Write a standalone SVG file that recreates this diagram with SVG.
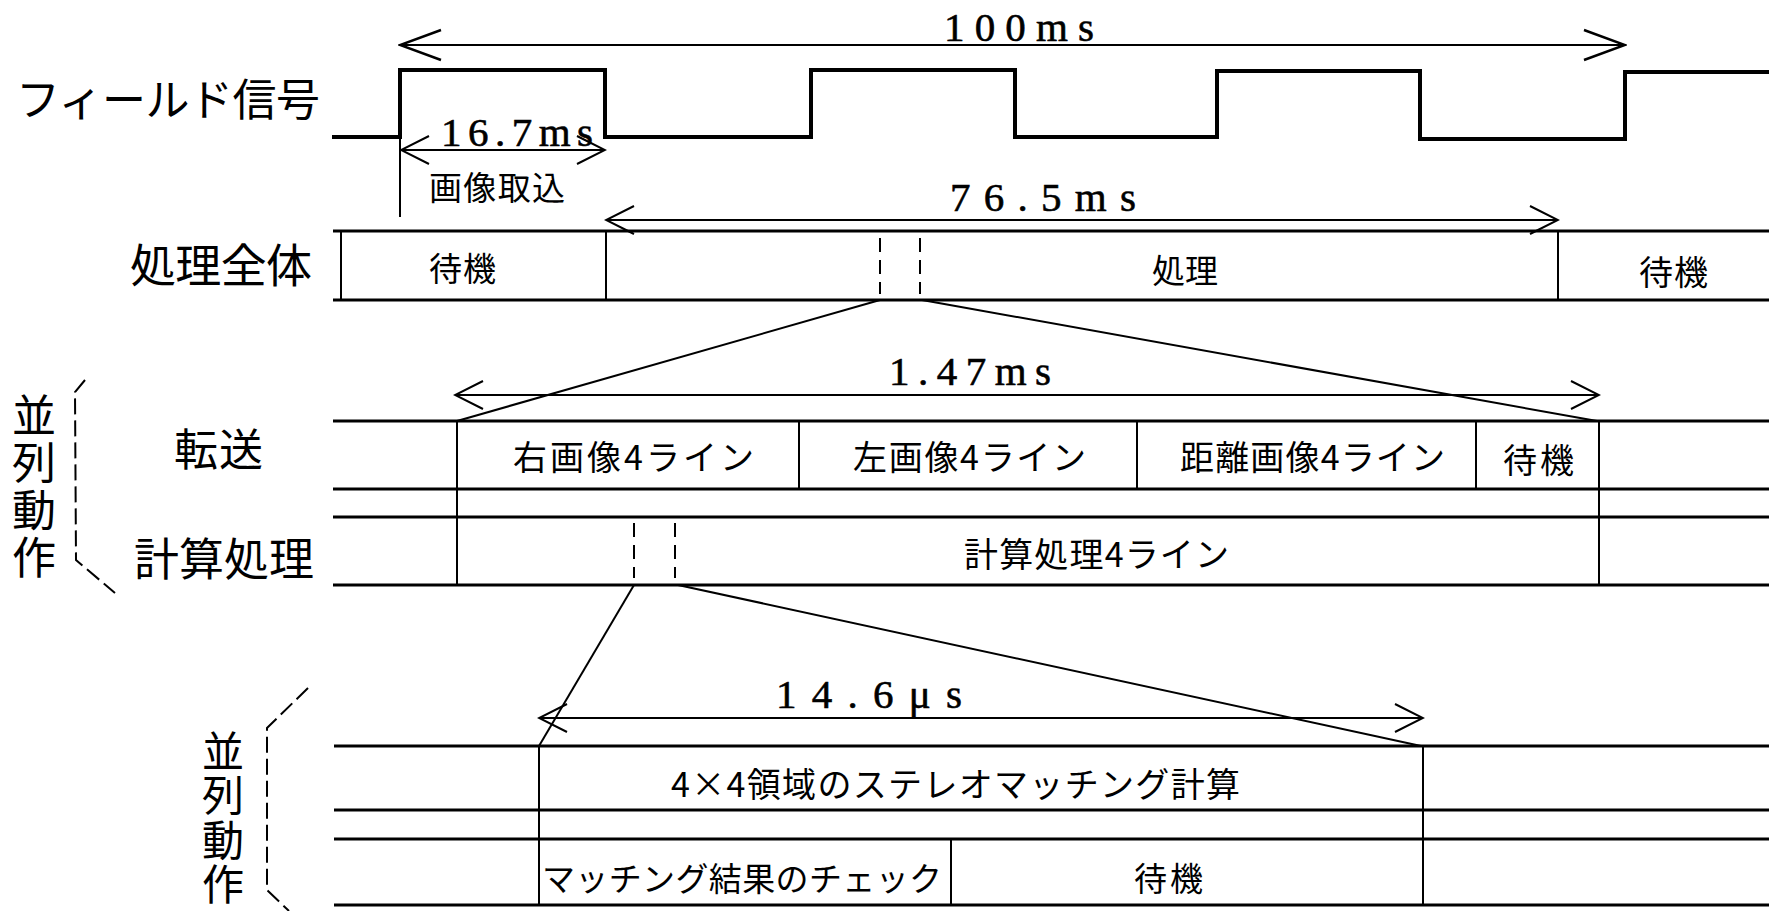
<svg xmlns="http://www.w3.org/2000/svg" width="1769" height="911" viewBox="0 0 1769 911">
<style>
.bg{fill:#fff}
.jp{font-family:"Noto Sans CJK JP","Noto Sans",sans-serif;fill:#000}
.vt{writing-mode:vertical-rl;text-orientation:upright}
.num{font-family:"Liberation Serif","DejaVu Serif",serif;fill:#000;font-size:41px;stroke:#000;stroke-width:0.6}
.sig{fill:none;stroke:#000;stroke-width:4;stroke-linejoin:miter}
.row{fill:none;stroke:#000;stroke-width:3}
.thin{fill:none;stroke:#000;stroke-width:2}
.dash{fill:none;stroke:#000;stroke-width:2;stroke-dasharray:14 8}
.brk{fill:none;stroke:#000;stroke-width:2;stroke-dasharray:16 6}
.dim{fill:none;stroke:#000;stroke-width:2}
</style>
<defs>
<marker id="ah" markerUnits="userSpaceOnUse" viewBox="-30 -16 32 32" markerWidth="32" markerHeight="32" refX="0" refY="0" orient="auto-start-reverse">
<path d="M-28,-14 L0,0 L-28,14" fill="none" stroke="#000" stroke-width="2"/>
</marker>
<marker id="ahL" markerUnits="userSpaceOnUse" viewBox="-44 -18 46 36" markerWidth="46" markerHeight="36" refX="0" refY="0" orient="auto-start-reverse">
<path d="M-41,-15 L0,0 L-41,15" fill="none" stroke="#000" stroke-width="2.5"/>
</marker>
</defs>
<rect class="bg" x="0" y="0" width="1769" height="911"/>

<g id="field-signal">
<text class="jp" x="16" y="116" font-size="44" textLength="304" lengthAdjust="spacing">フィールド信号</text>
<path class="sig" d="M332,137 H400 V70 H605 V137 H811 V70 H1015 V137 H1217 V71 H1420 V139 H1625 V72 H1769"/>
<line class="thin" x1="400" y1="137" x2="400" y2="217"/>
<text class="jp" x="429" y="200" font-size="33" textLength="136" lengthAdjust="spacing">画像取込</text>
</g>

<g id="overall">
<text class="jp" x="130" y="282" font-size="46" textLength="182" lengthAdjust="spacing">処理全体</text>
<line class="row" x1="333" y1="231" x2="1769" y2="231"/>
<line class="row" x1="333" y1="300" x2="1769" y2="300"/>
<line class="thin" x1="341" y1="231" x2="341" y2="300"/>
<line class="thin" x1="606" y1="231" x2="606" y2="300"/>
<line class="thin" x1="1558" y1="231" x2="1558" y2="300"/>
<text class="jp" x="429" y="281" font-size="33" textLength="67" lengthAdjust="spacing">待機</text>
<text class="jp" x="1152" y="283" font-size="33" textLength="66" lengthAdjust="spacing">処理</text>
<text class="jp" x="1639" y="285" font-size="34" textLength="69" lengthAdjust="spacing">待機</text>
<line class="dash" x1="880" y1="238" x2="880" y2="294"/>
<line class="dash" x1="920" y1="238" x2="920" y2="294"/>
</g>

<g id="parallel-1">
<polyline class="brk" points="85,380 75,392 76,560 115,593"/>
<text class="jp vt" x="34" y="393" font-size="44" letter-spacing="3.5">並列動作</text>
</g>

<g id="transfer">
<text class="jp" x="174" y="466" font-size="44" textLength="89" lengthAdjust="spacing">転送</text>
<line class="row" x1="333" y1="421" x2="1769" y2="421"/>
<line class="row" x1="333" y1="489" x2="1769" y2="489"/>
<line class="thin" x1="799" y1="421" x2="799" y2="489"/>
<line class="thin" x1="1137" y1="421" x2="1137" y2="489"/>
<line class="thin" x1="1476" y1="421" x2="1476" y2="489"/>
<text class="jp" x="513" y="470" font-size="34" textLength="241" lengthAdjust="spacing">右画像4ライン</text>
<text class="jp" x="853" y="470" font-size="34" textLength="233" lengthAdjust="spacing">左画像4ライン</text>
<text class="jp" x="1180" y="470" font-size="34" textLength="265" lengthAdjust="spacing">距離画像4ライン</text>
<text class="jp" x="1503" y="473" font-size="34" textLength="71" lengthAdjust="spacing">待機</text>
</g>

<g id="compute">
<text class="jp" x="134" y="576" font-size="45" textLength="180" lengthAdjust="spacing">計算処理</text>
<line class="row" x1="333" y1="517" x2="1769" y2="517"/>
<line class="row" x1="333" y1="585" x2="1769" y2="585"/>
<text class="jp" x="964" y="567" font-size="34" textLength="265" lengthAdjust="spacing">計算処理4ライン</text>
<line class="dash" x1="634" y1="523" x2="634" y2="578"/>
<line class="dash" x1="675" y1="523" x2="675" y2="578"/>
</g>

<g id="frame-lines">
<line class="thin" x1="457" y1="421" x2="457" y2="585"/>
<line class="thin" x1="1599" y1="421" x2="1599" y2="585"/>
</g>

<g id="parallel-2">
<polyline class="brk" points="308,688 267,728 267,890 289,911"/>
<text class="jp vt" x="223" y="730" font-size="42" letter-spacing="2.5">並列動作</text>
</g>

<g id="stereo">
<line class="row" x1="334" y1="746" x2="1769" y2="746"/>
<line class="row" x1="334" y1="810" x2="1769" y2="810"/>
<text class="jp" x="671" y="797" font-size="34" textLength="569" lengthAdjust="spacing">4×4領域のステレオマッチング計算</text>
</g>

<g id="check">
<line class="row" x1="334" y1="839" x2="1769" y2="839"/>
<line class="row" x1="334" y1="905" x2="1769" y2="905"/>
<line class="thin" x1="951" y1="839" x2="951" y2="905"/>
<text class="jp" x="542" y="891" font-size="33" textLength="400" lengthAdjust="spacing">マッチング結果のチェック</text>
<text class="jp" x="1134" y="891" font-size="33" textLength="69" lengthAdjust="spacing">待機</text>
<line class="thin" x1="539" y1="746" x2="539" y2="905"/>
<line class="thin" x1="1423" y1="746" x2="1423" y2="905"/>
</g>

<g id="connectors">
<line class="dim" x1="400" y1="45" x2="1625" y2="45" marker-start="url(#ahL)" marker-end="url(#ahL)"/>
<text class="num" x="944" y="41" textLength="150" lengthAdjust="spacing">100ms</text>
<line class="dim" x1="401" y1="150" x2="605" y2="150" marker-start="url(#ah)" marker-end="url(#ah)"/>
<text class="num" x="441" y="146" textLength="152" lengthAdjust="spacing">16.7ms</text>
<line class="dim" x1="606" y1="220" x2="1558" y2="220" marker-start="url(#ah)" marker-end="url(#ah)"/>
<text class="num" x="950" y="211" textLength="186" lengthAdjust="spacing">76.5ms</text>
<line class="dim" x1="455" y1="395" x2="1599" y2="395" marker-start="url(#ah)" marker-end="url(#ah)"/>
<text class="num" x="889" y="385" textLength="162" lengthAdjust="spacing">1.47ms</text>
<line class="dim" x1="539" y1="718" x2="1423" y2="718" marker-start="url(#ah)" marker-end="url(#ah)"/>
<text class="num" x="776" y="708" textLength="186" lengthAdjust="spacing">14.6μs</text>
<line class="thin" x1="880" y1="300" x2="457" y2="421"/>
<line class="thin" x1="922" y1="300" x2="1597" y2="421"/>
<line class="thin" x1="634" y1="585" x2="539" y2="746"/>
<line class="thin" x1="678" y1="585" x2="1421" y2="746"/>
</g>
</svg>
